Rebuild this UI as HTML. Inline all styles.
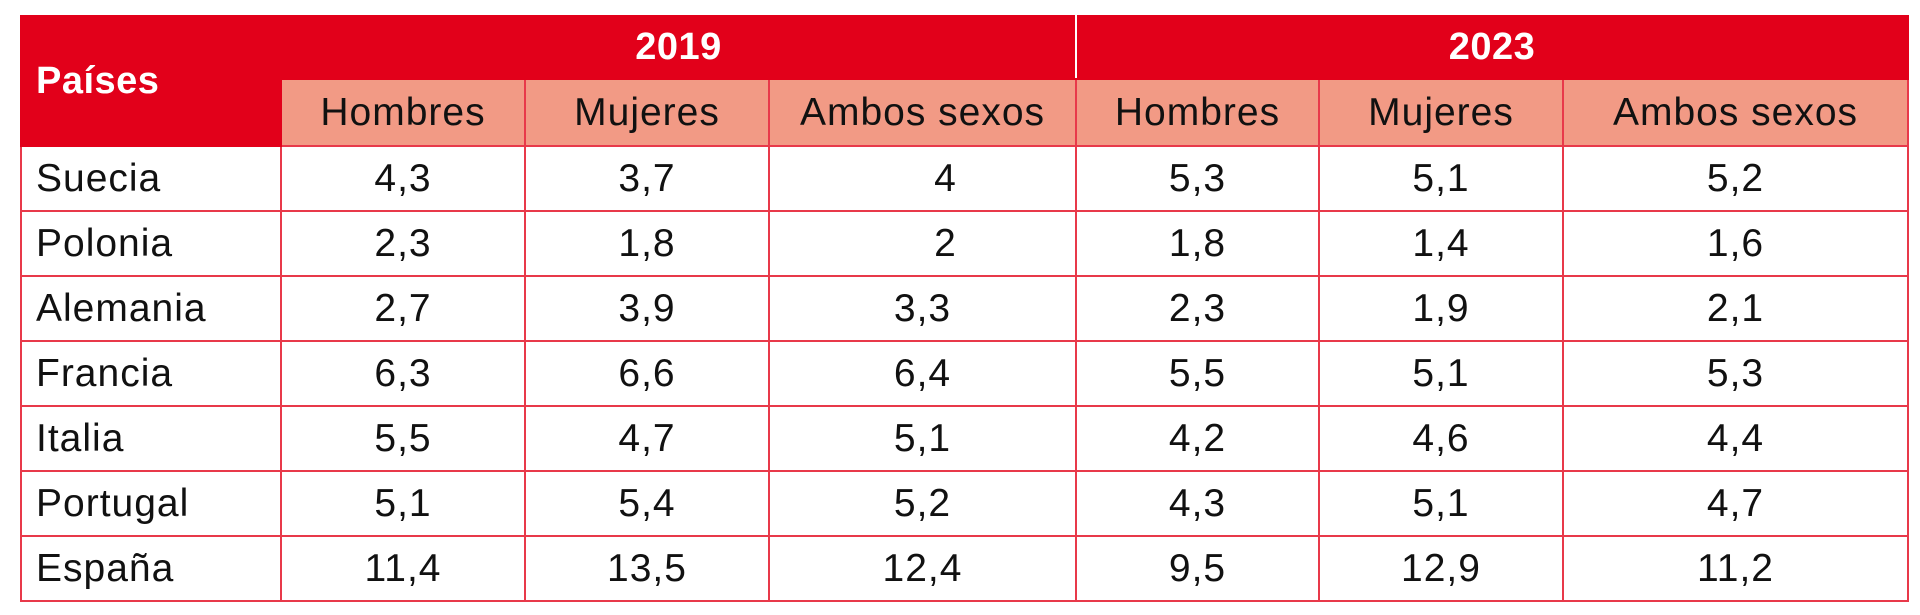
<!DOCTYPE html>
<html><head><meta charset="utf-8"><style>
html,body{margin:0;padding:0;background:#fff;width:1920px;height:615px;overflow:hidden}
table{position:absolute;left:20px;top:15px;border-collapse:collapse;table-layout:fixed;font-family:"Liberation Sans",sans-serif;font-size:39px;letter-spacing:1px;color:#111}
td,th{border:2px solid #e8394a;padding:0;height:63px;text-align:center;font-weight:normal}
th.red{background:#e2001a;color:#fff;font-weight:bold;font-size:38px;letter-spacing:0.5px;border-color:#e2001a}
th.red.y{border-left-color:#fff;border-right-color:#fff}
th.sub{background:#f29a85;border-color:#e8394a}
td.c{text-align:left;padding-left:14px}
td.i{padding-left:46px}
</style></head><body>
<table>
<colgroup><col style="width:260px"><col style="width:244px"><col style="width:244px"><col style="width:307px"><col style="width:243px"><col style="width:244px"><col style="width:345px"></colgroup>
<thead>
<tr style="height:63px"><th class="red" rowspan="2" style="text-align:left;padding-left:14px;vertical-align:middle">Países</th>
<th class="red y" colspan="3" style="height:61px">2019</th>
<th class="red y" colspan="3" style="border-right-color:#e2001a;height:61px">2023</th></tr>
<tr style="height:67px">
<th class="sub" style="height:65px">Hombres</th>
<th class="sub">Mujeres</th>
<th class="sub">Ambos sexos</th>
<th class="sub">Hombres</th>
<th class="sub">Mujeres</th>
<th class="sub">Ambos sexos</th></tr>
</thead>
<tbody>
<tr><td class="c">Suecia</td><td>4,3</td><td>3,7</td><td class="i">4</td><td>5,3</td><td>5,1</td><td>5,2</td></tr>
<tr><td class="c">Polonia</td><td>2,3</td><td>1,8</td><td class="i">2</td><td>1,8</td><td>1,4</td><td>1,6</td></tr>
<tr><td class="c">Alemania</td><td>2,7</td><td>3,9</td><td>3,3</td><td>2,3</td><td>1,9</td><td>2,1</td></tr>
<tr><td class="c">Francia</td><td>6,3</td><td>6,6</td><td>6,4</td><td>5,5</td><td>5,1</td><td>5,3</td></tr>
<tr><td class="c">Italia</td><td>5,5</td><td>4,7</td><td>5,1</td><td>4,2</td><td>4,6</td><td>4,4</td></tr>
<tr><td class="c">Portugal</td><td>5,1</td><td>5,4</td><td>5,2</td><td>4,3</td><td>5,1</td><td>4,7</td></tr>
<tr><td class="c">España</td><td>11,4</td><td>13,5</td><td>12,4</td><td>9,5</td><td>12,9</td><td>11,2</td></tr>
</tbody></table>
</body></html>
